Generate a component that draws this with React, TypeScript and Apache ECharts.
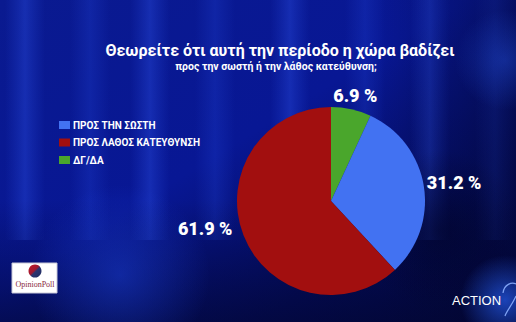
import React, { useEffect, useRef } from "react";
import * as echarts from "echarts";

const titleText = "Θεωρείτε ότι αυτή την περίοδο η χώρα βαδίζει";
const subtitleText = "προς την σωστή ή την λάθος κατεύθυνση;";
const categories = ["ΔΓ/ΔΑ", "ΠΡΟΣ ΤΗΝ ΣΩΣΤΗ", "ΠΡΟΣ ΛΑΘΟΣ ΚΑΤΕΥΘΥΝΣΗ"];
const values = [6.9, 31.2, 61.9];
const colors = ["#4aa62c", "#4272f2", "#a20f0f"];
const legendOrder = ["ΠΡΟΣ ΤΗΝ ΣΩΣΤΗ", "ΠΡΟΣ ΛΑΘΟΣ ΚΑΤΕΥΘΥΝΣΗ", "ΔΓ/ΔΑ"];
const labelShift = [
  [-18, -14],
  [3, -4],
  [-11, -7],
];

const FONT = "Roboto, 'Noto Sans', sans-serif";

function radial(cx: number, cy: number, r: number, color: string, z = -8) {
  return {
    type: "circle",
    silent: true,
    z,
    shape: { cx, cy, r },
    style: {
      fill: new echarts.graphic.RadialGradient(0.5, 0.5, 0.5, [
        { offset: 0, color },
        { offset: 1, color: color.replace(/[\d.]+\)$/, "0)") },
      ]),
    },
  };
}

export default function App() {
  const ref = useRef<HTMLDivElement>(null);
  useEffect(() => {
    if (!ref.current) return;
    const chart = echarts.init(ref.current, null, { renderer: "svg" });
    const stripes: any[] = [];
    const stripeXs = [25, 90, 150, 215, 290, 365, 430, 495];
    stripeXs.forEach((x, i) => {
      stripes.push({
        type: "rect",
        silent: true,
        z: -9,
        shape: { x: x - 20, y: 0, width: 40, height: 240 },
        style: {
          fill: new echarts.graphic.LinearGradient(0, 0, 1, 0, [
            { offset: 0, color: "rgba(40,80,230,0)" },
            { offset: 0.5, color: i % 2 === 0 ? "rgba(50,90,245,0.32)" : "rgba(40,80,235,0.22)" },
            { offset: 1, color: "rgba(40,80,230,0)" },
          ]),
        },
      });
    });
    const option: any = {
      animation: false,
      backgroundColor: "#06106e",
      title: [
        {
          text: titleText,
          left: 275,
          textAlign: "center",
          top: 37,
          textStyle: { color: "#ffffff", fontSize: 16, fontWeight: "bold", fontFamily: FONT },
        },
        {
          text: subtitleText,
          left: 271,
          textAlign: "center",
          top: 56,
          textStyle: { color: "#ffffff", fontSize: 10.5, fontWeight: "bold", fontFamily: FONT },
        },
      ],
      legend: {
        orient: "vertical",
        left: 54,
        top: 115,
        itemWidth: 11,
        itemHeight: 8,
        itemGap: 7.5,
        icon: "rect",
        data: legendOrder,
        textStyle: { color: "#ffffff", fontSize: 10, fontWeight: "bold", fontFamily: FONT, padding: [0, 0, 0, -2] },
      },
      graphic: [
        {
          type: "rect",
          silent: true,
          z: -10,
          shape: { x: 0, y: 0, width: 516, height: 322 },
          style: {
            fill: new echarts.graphic.LinearGradient(0, 0, 1, 1, [
              { offset: 0, color: "#0a1a90" },
              { offset: 0.45, color: "#081794" },
              { offset: 0.75, color: "#040c5c" },
              { offset: 1, color: "#020636" },
            ]),
          },
        },
        ...stripes,
        {
          type: "rect",
          silent: true,
          z: -8,
          shape: { x: 0, y: 200, width: 516, height: 122 },
          style: {
            fill: new echarts.graphic.LinearGradient(0, 0, 0, 1, [
              { offset: 0, color: "rgba(2,6,60,0)" },
              { offset: 1, color: "rgba(2,6,50,0.6)" },
            ]),
          },
        },
        {
          type: "rect",
          silent: true,
          z: -8,
          shape: { x: 380, y: 0, width: 136, height: 322 },
          style: {
            fill: new echarts.graphic.LinearGradient(0, 0, 1, 0, [
              { offset: 0, color: "rgba(2,6,50,0)" },
              { offset: 1, color: "rgba(2,6,50,0.45)" },
            ]),
          },
        },
        radial(120, 275, 90, "rgba(30,70,230,0.45)", -7),
        radial(440, 230, 80, "rgba(1,4,40,0.6)", -7),
        radial(505, 300, 45, "rgba(40,100,255,0.65)", -6),
        radial(505, 60, 50, "rgba(40,90,240,0.35)", -6),
        {
          type: "rect",
          z: 5,
          shape: { x: 12, y: 263, width: 45, height: 30 },
          style: { fill: "#ffffff", stroke: "#c8c8d8", lineWidth: 1 },
        },
        {
          type: "circle",
          z: 6,
          shape: { cx: 35, cy: 271, r: 6.5 },
          style: {
            fill: new echarts.graphic.LinearGradient(0, 0, 1, 1, [
              { offset: 0, color: "#c01a2a" },
              { offset: 0.45, color: "#a01830" },
              { offset: 0.55, color: "#2a3570" },
              { offset: 1, color: "#1e2a60" },
            ]),
          },
        },
        {
          type: "text",
          z: 6,
          x: 35,
          y: 284,
          style: {
            text: "OpinionPoll",
            fill: "#8a2a40",
            font: "8px 'Liberation Serif', serif",
            align: "center",
            verticalAlign: "middle",
          },
        },
        {
          type: "text",
          z: 6,
          x: 452,
          y: 300,
          style: {
            text: "ACTION",
            fill: "#ffffff",
            font: "13px 'Liberation Sans', sans-serif",
            align: "left",
            verticalAlign: "middle",
          },
        },
        {
          type: "bezierCurve",
          z: 6,
          shape: { x1: 503, y1: 293, cpx1: 504, cpy1: 284, x2: 516, y2: 284, cpx2: 512, cpy2: 282 },
          style: { stroke: "rgba(140,175,255,0.9)", lineWidth: 1.2, fill: "none" },
        },
        {
          type: "bezierCurve",
          z: 6,
          shape: { x1: 516, y1: 296, cpx1: 512, cpy1: 305, x2: 505, y2: 316, cpx2: 506, cpy2: 312 },
          style: { stroke: "rgba(140,175,255,0.9)", lineWidth: 1.2, fill: "none" },
        },
      ],
      series: [
        {
          type: "pie",
          center: [331, 201],
          radius: 94,
          startAngle: 90,
          clockwise: true,
          avoidLabelOverlap: false,
          data: categories.map((name, i) => ({
            name,
            value: values[i],
            itemStyle: { color: colors[i] },
          })),
          label: {
            show: true,
            position: "outside",
            alignTo: "none",
            distanceToLabelLine: 0,
            formatter: (p: any) => p.value.toFixed(1) + " %",
            color: "#ffffff",
            fontSize: 18,
            fontWeight: 900,
            fontFamily: FONT,
          },
          labelLine: { show: false, length: 0, length2: 0 },
          labelLayout: (p: any) => ({ dx: labelShift[p.dataIndex][0], dy: labelShift[p.dataIndex][1] }),
          emphasis: { disabled: true },
        },
      ],
    };
    chart.setOption(option);
    return () => chart.dispose();
  }, []);
  return (
    <div
      ref={ref}
      style={{ position: "fixed", left: 0, top: 0, width: 516, height: 322 }}
    />
  );
}
